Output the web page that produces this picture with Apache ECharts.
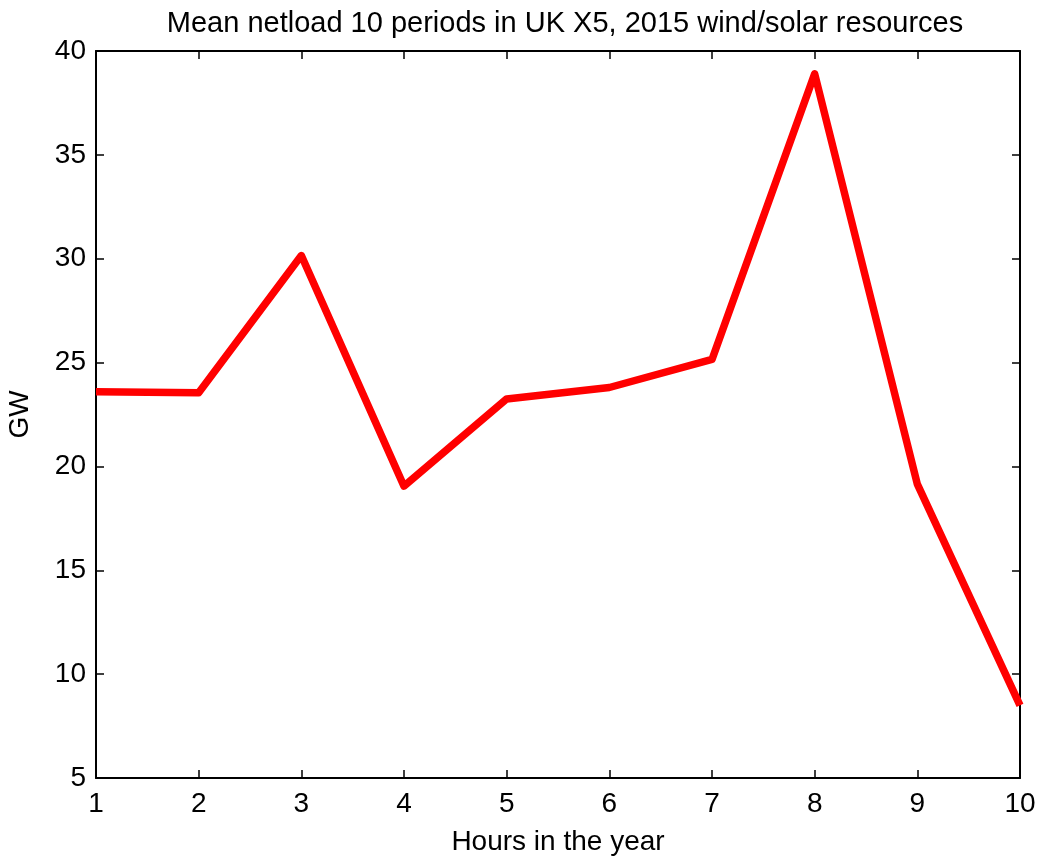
<!DOCTYPE html>
<html>
<head>
<meta charset="utf-8">
<script src="https://cdn.jsdelivr.net/npm/echarts@6/dist/echarts.min.js"></script>
<style>html,body{margin:0;padding:0;background:#fff}#c{width:1037px;height:858px}</style>
</head>
<body>
<div id="c"></div>
<script>
const hours = [1, 2, 3, 4, 5, 6, 7, 8, 9, 10];
const netload = [23.6, 23.55, 30.15, 19.05, 23.25, 23.8, 25.15, 38.9, 19.15, 8.5];
const yTicks = [5, 10, 15, 20, 25, 30, 35, 40];

const chart = echarts.init(document.getElementById('c'));
const font = 'Liberation Sans, Arial, sans-serif';
const axLine = {show: true, lineStyle: {color: '#000', width: 2}};
const tickIn = {show: true, inside: true, length: 8, lineStyle: {color: '#000', width: 1.5}};
chart.setOption({
  animation: false,
  backgroundColor: '#fff',
  title: {
    text: 'Mean netload 10 periods in UK X5, 2015 wind/solar resources',
    left: 560, top: 4, textAlign: 'center',
    textStyle: {fontFamily: font, fontSize: 29, fontWeight: 'normal', color: '#000'}
  },
  grid: {left: 96, right: 17, top: 51, bottom: 80, containLabel: false, outerBoundsMode: 'none'},
  xAxis: [{
    type: 'value', min: 1, max: 10, interval: 1,
    name: 'Hours in the year', nameLocation: 'middle', nameGap: 50,
    nameTextStyle: {fontFamily: font, fontSize: 28, color: '#000'},
    axisLine: axLine, axisTick: tickIn,
    axisLabel: {fontFamily: font, fontSize: 28, color: '#000', margin: 12},
    splitLine: {show: false}
  }, {
    type: 'value', position: 'top', min: 1, max: 10, interval: 1,
    axisLine: axLine, axisTick: tickIn, axisLabel: {show: false}, splitLine: {show: false}
  }],
  yAxis: [{
    type: 'value', min: 5, max: 40, interval: 5,
    name: 'GW', nameLocation: 'middle', nameGap: 62,
    nameTextStyle: {fontFamily: font, fontSize: 28, color: '#000'},
    axisLine: axLine, axisTick: tickIn,
    axisLabel: {fontFamily: font, fontSize: 28, color: '#000', margin: 10,
      formatter: v => yTicks.includes(v) ? String(v) : ''},
    splitLine: {show: false}
  }, {
    type: 'value', position: 'right', min: 5, max: 40, interval: 5,
    axisLine: axLine, axisTick: tickIn, axisLabel: {show: false}, splitLine: {show: false}
  }],
  series: [{
    type: 'line',
    data: hours.map((h, i) => [h, netload[i]]),
    showSymbol: false, symbol: 'none',
    lineStyle: {color: '#ff0000', width: 7.5, join: 'round'},
    clip: false
  }]
});
</script>
</body>
</html>
